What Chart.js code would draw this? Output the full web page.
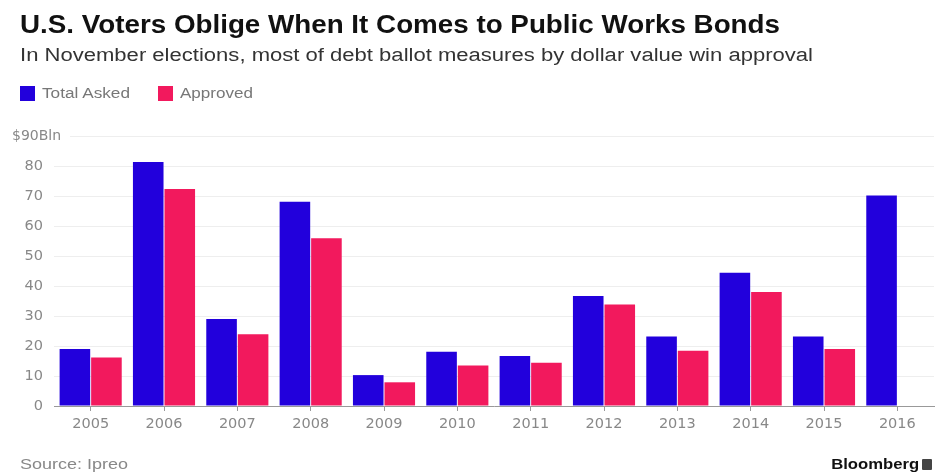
<!DOCTYPE html>
<html><head><meta charset="utf-8">
<script src="https://cdn.jsdelivr.net/npm/chart.js@4.4.0/dist/chart.umd.min.js"></script>
<style>
html,body{margin:0;padding:0;background:#fff;width:950px;height:473px;overflow:hidden;font-family:"Liberation Sans",Arial,sans-serif;}
#wrap{position:relative;width:950px;height:473px;}
canvas{position:absolute;left:0;top:0;}
.t{position:absolute;white-space:nowrap;transform-origin:0 50%;}
#title{left:20px;top:10px;font-size:25px;font-weight:bold;color:#111;}
#sub{left:20px;top:45px;font-size:18px;color:#333;}
.leg{position:absolute;top:86px;height:15px;}
.sw{position:absolute;top:0;width:15px;height:15px;}
.lt{position:absolute;top:-1px;font-size:14px;color:#777;white-space:nowrap;transform-origin:0 50%;}
#source{left:20px;top:456px;font-size:14px;color:#888;}
#bb{right:31px;top:455px;font-size:15px;font-weight:bold;color:#111;transform-origin:100% 50%;}
#bbi{position:absolute;left:922px;top:459px;width:10px;height:11px;background:#444;border-radius:1px;}
</style></head>
<body><div id="wrap">
<canvas id="c" width="950" height="473"></canvas>
<div class="t" id="title" data-w="760">U.S. Voters Oblige When It Comes to Public Works Bonds</div>
<div class="t" id="sub" data-w="793">In November elections, most of debt ballot measures by dollar value win approval</div>
<div class="t" id="source" data-w="108">Source: Ipreo</div>
<div class="t" id="bb" data-w="88">Bloomberg</div>
<div id="bbi"></div>
</div>
<script>
const years = ['2005','2006','2007','2008','2009','2010','2011','2012','2013','2014','2015','2016'];
const totalAsked = [19, 81.3, 29, 68.1, 10.3, 18.1, 16.7, 36.7, 23.2, 44.4, 23.2, 70.2];
const approved = [16.2, 72.3, 23.9, 55.9, 7.9, 13.5, 14.4, 33.8, 18.4, 38, 19, null];
const seriesNames = ['Total Asked', 'Approved'];
const seriesColors = ['#2200dc', '#f2195d'];
const yTicks = [0,10,20,30,40,50,60,70,80,90];
const yTopLabel = '$90Bln';

const wrap = document.getElementById('wrap');
const legLeft = [20, 158];
const legTextW = [88, 73];
seriesNames.forEach((n,i)=>{
  const d=document.createElement('div');d.className='leg';d.style.left=legLeft[i]+'px';
  d.innerHTML='<div class="sw" style="left:0;background:'+seriesColors[i]+'"></div><div class="lt" style="left:22px" data-w="'+legTextW[i]+'">'+n+'</div>';
  wrap.appendChild(d);
});
document.querySelectorAll('[data-w]').forEach(el=>{
  const w = el.getBoundingClientRect().width;
  const target = parseFloat(el.dataset.w);
  if (w>0) el.style.transform='scaleX('+(target/w)+')';
});

const tickFont = {size:14.5, family:'"DejaVu Sans", "Liberation Sans", sans-serif'};

const topLabel = {
  id:'topLabel',
  afterDraw(chart){
    const y = chart.scales.y;
    const ctx = chart.ctx;
    const py = y.getPixelForValue(yTicks[yTicks.length-1]);
    ctx.save();
    ctx.fillStyle='#fff';
    ctx.fillRect(10, py-8, 60, 16);
    ctx.font='14px "DejaVu Sans", sans-serif';
    ctx.fillStyle='#888';
    ctx.textBaseline='middle';
    ctx.textAlign='left';
    ctx.fillText(yTopLabel, 12, py);
    ctx.restore();
  }
};

new Chart(document.getElementById('c'), {
  type:'bar',
  data:{
    labels: years,
    datasets:[
      {label:seriesNames[0], data:totalAsked, backgroundColor:seriesColors[0], borderWidth:0},
      {label:seriesNames[1], data:approved, backgroundColor:seriesColors[1], borderWidth:0}
    ]
  },
  plugins:[topLabel],
  options:{
    responsive:false,
    animation:false,
    devicePixelRatio:1,
    layout:{padding:{left:0,right:16,top:136,bottom:0}},
    plugins:{legend:{display:false},tooltip:{enabled:false}},
    datasets:{bar:{categoryPercentage:0.86,barPercentage:0.97}},
    scales:{
      x:{
        grid:{display:true,drawOnChartArea:false,drawTicks:true,tickLength:5,offset:false,color:'#999'},
        border:{display:true,color:'#999',width:1},
        ticks:{color:'#888',font:tickFont,padding:5,maxRotation:0},
        afterFit(s){s.height=67;}
      },
      y:{
        min:0,max:90,
        afterBuildTicks(s){s.ticks=yTicks.map(v=>({value:v}));},
        grid:{color:'#eeeeee',drawTicks:false},
        border:{display:false},
        ticks:{color:'#888',font:tickFont,padding:11,
          callback:(v)=> v===90 ? '' : String(v)},
        afterFit(s){s.width=54;}
      }
    }
  }
});
</script>
</body></html>
